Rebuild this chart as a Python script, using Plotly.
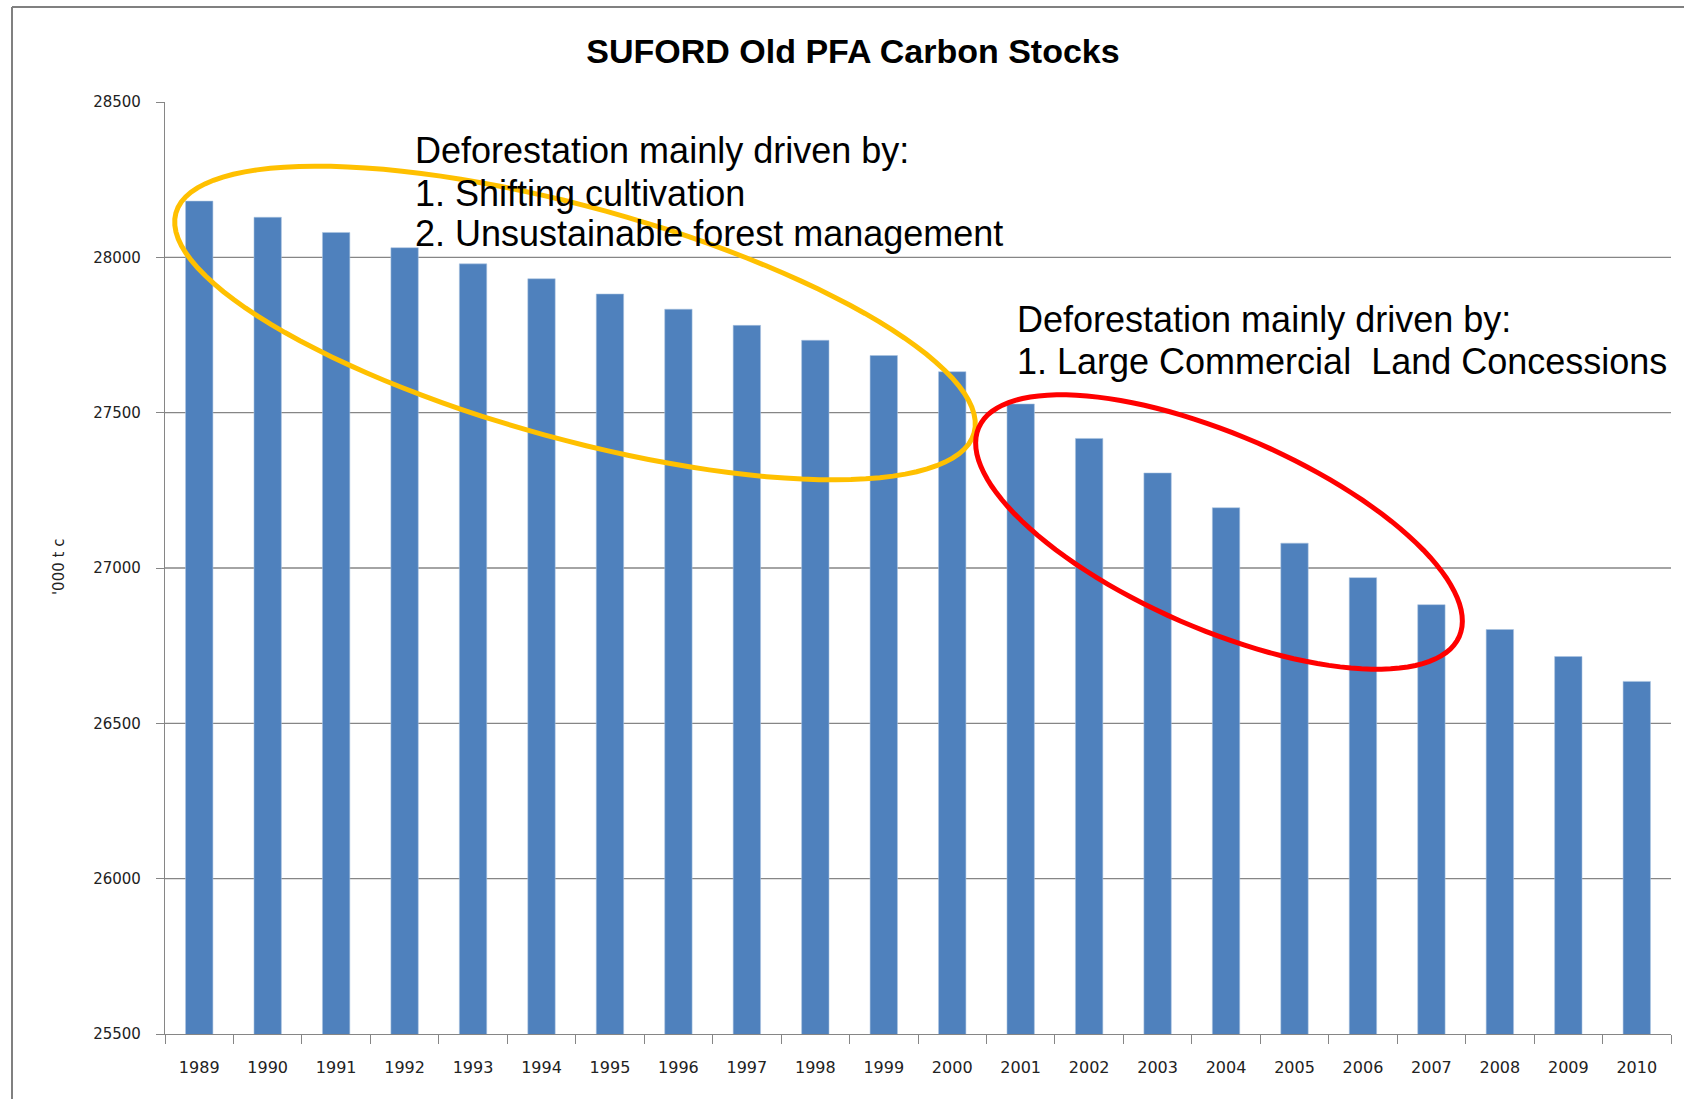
import numpy as np
import plotly.graph_objects as go

# ---------------- data ----------------
years = [str(y) for y in range(1989, 2011)]
carbon_stocks = [28181, 28129, 28080, 28031, 27979, 27931, 27882, 27833, 27781, 27733,
                 27684, 27632, 27528, 27417, 27306, 27194, 27080, 26969, 26882, 26802,
                 26715, 26635]
y_ticks = [25500, 26000, 26500, 27000, 27500, 28000, 28500]
title_text = "SUFORD Old PFA Carbon Stocks"
y_title = "'000 t c"
note1_lines = ["Deforestation mainly driven by:",
               "1. Shifting cultivation",
               "2. Unsustainable forest management"]
note2_lines = ["Deforestation mainly driven by:",
               "1. Large Commercial  Land Concessions"]

# ---------------- layout geometry (pixels) ----------------
W, H = 1684, 1099
ML, MR, MT, MB = 165, 13, 102, 65
PW, PH = W - ML - MR, H - MT - MB


def px2paper(px, py):
    return (px - ML) / PW, (H - MB - py) / PH


def ellipse_path(cx, cy, a, b, theta_deg, n=120):
    th = np.deg2rad(theta_deg)
    t = np.linspace(0, 2 * np.pi, n, endpoint=False)
    xs = cx + a * np.cos(t) * np.cos(th) - b * np.sin(t) * np.sin(th)
    ys = cy + a * np.cos(t) * np.sin(th) + b * np.sin(t) * np.cos(th)
    pts = [px2paper(x, y) for x, y in zip(xs, ys)]
    d = "M " + " L ".join(f"{x:.5f},{y:.5f}" for x, y in pts) + " Z"
    return d


BLUE = "rgb(79,129,189)"
GRID = "rgb(134,134,134)"

fig = go.Figure()
fig.add_trace(go.Bar(
    x=years, y=carbon_stocks,
    marker=dict(color=BLUE, line=dict(color="rgba(170,195,225,0.7)", width=0.8)),
    showlegend=False,
))

shapes = []
# horizontal gridlines (no line at the very top)
for v in y_ticks[1:-1]:
    shapes.append(dict(type="line", xref="paper", yref="y", x0=0, x1=1, y0=v, y1=v,
                       line=dict(color=GRID, width=1.3), layer="below"))
# outer frame (left and top edges)
fx0, fy0 = px2paper(12, 7)
_, fy1 = px2paper(12, H + 5)
fx1, _ = px2paper(W + 5, 7)
shapes.append(dict(type="line", xref="paper", yref="paper", x0=fx0, x1=fx0, y0=fy0, y1=fy1,
                   line=dict(color="rgb(128,128,128)", width=2)))
shapes.append(dict(type="line", xref="paper", yref="paper", x0=fx0, x1=fx1, y0=fy0, y1=fy0,
                   line=dict(color="rgb(128,128,128)", width=2)))
# hand-drawn style highlight ellipses
shapes.append(dict(type="path", xref="paper", yref="paper",
                   path=ellipse_path(575, 323, 414, 116, 15.4),
                   line=dict(color="rgb(255,192,0)", width=5), layer="above"))
shapes.append(dict(type="path", xref="paper", yref="paper",
                   path=ellipse_path(1219, 532, 262, 97, 23.5),
                   line=dict(color="rgb(255,0,0)", width=5), layer="above"))

annotations = []
for text, (px, py) in zip(note1_lines, [(413, 150), (413, 193), (413, 234)]):
    x, y = px2paper(px, py)
    annotations.append(dict(text=text, x=x, y=y, xref="paper", yref="paper",
                            xanchor="left", yanchor="middle", showarrow=False,
                            font=dict(family="Liberation Sans, Arial, sans-serif", size=36, color="black")))
for text, (px, py) in zip(note2_lines, [(1015, 319), (1015, 361)]):
    x, y = px2paper(px, py)
    annotations.append(dict(text=text, x=x, y=y, xref="paper", yref="paper",
                            xanchor="left", yanchor="middle", showarrow=False,
                            font=dict(family="Liberation Sans, Arial, sans-serif", size=36, color="black")))
# y axis title
tx, ty = px2paper(59, 567)
annotations.append(dict(text=y_title, x=tx, y=ty, xref="paper", yref="paper",
                        xanchor="center", yanchor="middle", showarrow=False, textangle=-90,
                        font=dict(family="DejaVu Sans, sans-serif", size=15, color="#222")))

fig.update_layout(
    width=W, height=H, autosize=False,
    margin=dict(l=ML, r=MR, t=MT, b=MB, pad=0),
    paper_bgcolor="white", plot_bgcolor="white",
    bargap=0.6,
    title=dict(text=f"<b>{title_text}</b>", x=853 / W, xref="container", xanchor="center",
               y=1 - 51 / H, yref="container", yanchor="middle",
               font=dict(family="Liberation Sans, Arial, sans-serif", size=34, color="black")),
    xaxis=dict(
        type="category", tickson="boundaries", ticks="outside", ticklen=9, tickwidth=1.3,
        tickcolor=GRID, showline=True, linecolor=GRID, linewidth=1.3, showgrid=False,
        ticklabelstandoff=19,
        tickfont=dict(family="DejaVu Sans, sans-serif", size=16, color="#222"),
    ),
    yaxis=dict(
        range=[y_ticks[0], y_ticks[-1]], tickvals=y_ticks, tickformat="d",
        ticks="outside", ticklen=8, tickwidth=1.3, tickcolor=GRID,
        showline=True, linecolor=GRID, linewidth=1.3, showgrid=False, zeroline=False,
        ticklabelstandoff=12,
        tickfont=dict(family="DejaVu Sans, sans-serif", size=15, color="#222"),
    ),
    shapes=shapes,
    annotations=annotations,
)

fig.write_html("out.html", config={"displayModeBar": False},
               post_script="document.body.style.margin='0';document.body.style.overflow='hidden';")
